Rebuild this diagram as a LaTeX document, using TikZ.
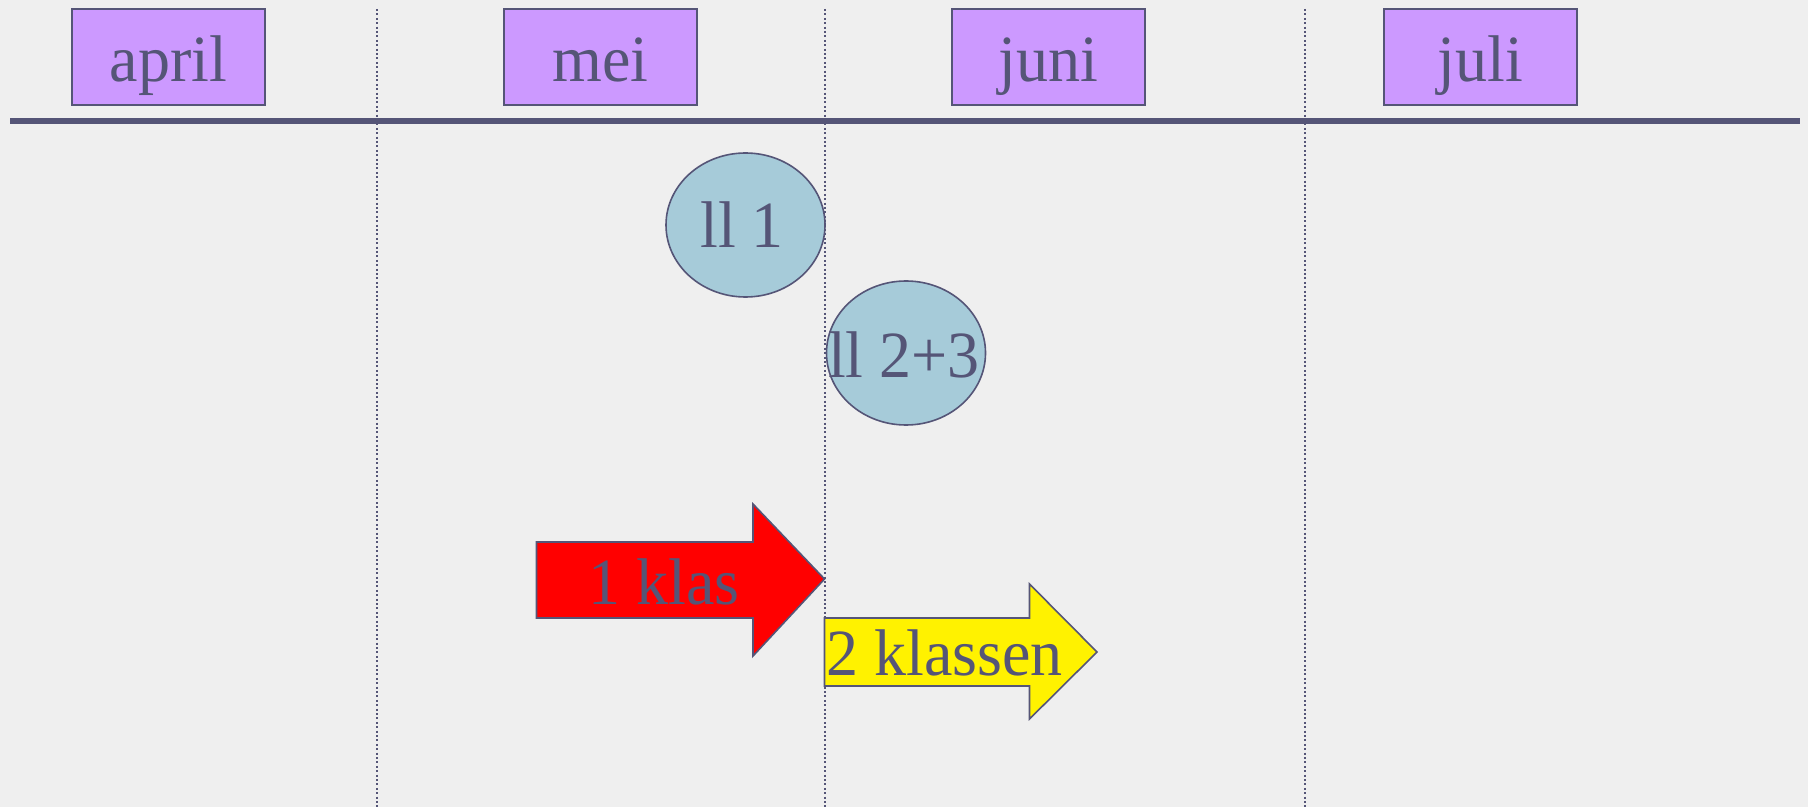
\documentclass[tikz,border=0pt]{standalone}
\usepackage{fontspec}
\setmainfont{Liberation Serif}[FakeStretch=0.97]
\usetikzlibrary{shapes.geometric}
\definecolor{bg}{HTML}{EFEFEF}
\definecolor{ink}{HTML}{555577}
\definecolor{lav}{HTML}{CC99FF}
\definecolor{lblue}{HTML}{A6CBD9}
\tikzset{
  txt/.style={inner sep=0pt, text=ink, font=\fontsize{33}{40}\selectfont},
  monthbox/.style={txt, draw=ink, line width=0.8pt, fill=lav, minimum width=96.5pt,
     text height=36.5pt, text depth=11.5pt, align=center},
  bubble/.style={ellipse, draw=ink, line width=0.8pt, fill=lblue, inner sep=0pt,
     minimum width=79.5pt, minimum height=72pt},
  divider/.style={ink, line width=0.7pt, dash pattern=on 1pt off 1.2pt},
  arrowshape/.style={draw=ink, line width=0.8pt, line join=miter}
}
\begin{document}
\begin{tikzpicture}[x=0.5pt,y=-0.5pt]
\fill[bg] (0,0) rectangle (1808,807);
\useasboundingbox (0,0) rectangle (1808,807);
% dividers
\coordinate (d1t) at (377,9);   \coordinate (d1b) at (377,807);
\coordinate (d2t) at (825,9);   \coordinate (d2b) at (825,807);
\coordinate (d3t) at (1305,9);  \coordinate (d3b) at (1305,807);
\draw[divider] (d1t) -- (d1b);
\draw[divider] (d2t) -- (d2b);
\draw[divider] (d3t) -- (d3b);
% timeline
\coordinate (tl) at (10,121); \coordinate (tr) at (1800,121);
\draw[ink, line width=3pt] (tl) -- (tr);
% month boxes
\node[monthbox] (apr) at (168.5,57) {april};
\node[monthbox] (mei) at (600.5,57) {mei};
\node[monthbox] (jun) at (1048.5,57) {juni};
\node[monthbox] (jul) at (1480.5,57) {juli};
% bubbles
\node[bubble] (e1) at (745.5,225) {};
\node[txt, anchor=base] (t1) at (742,248) {ll 1};
\node[bubble] (e2) at (906,353) {};
\node[txt, anchor=base] (t2) at (904,378) {ll 2+3};
% red arrow
\coordinate (ra1) at (536.5,542);
\coordinate (ra2) at (753,542);
\coordinate (ra3) at (753,504);
\coordinate (ra4) at (824.5,579);
\coordinate (ra5) at (753,656);
\coordinate (ra6) at (753,618);
\coordinate (ra7) at (536.5,618);
\draw[arrowshape, fill=red] (ra1) -- (ra2) -- (ra3) -- (ra4) -- (ra5) -- (ra6) -- (ra7) -- cycle;
\node[txt, anchor=base] (k1) at (664,604) {1 klas};
% yellow arrow
\coordinate (ya1) at (824.5,618);
\coordinate (ya2) at (1029.5,618);
\coordinate (ya3) at (1029.5,584);
\coordinate (ya4) at (1097,652);
\coordinate (ya5) at (1029.5,719);
\coordinate (ya6) at (1029.5,686);
\coordinate (ya7) at (824.5,686);
\draw[arrowshape, fill=yellow] (ya1) -- (ya2) -- (ya3) -- (ya4) -- (ya5) -- (ya6) -- (ya7) -- cycle;
\node[txt, anchor=base west] (k2) at (826,675) {2 klassen};
\end{tikzpicture}
\end{document}
